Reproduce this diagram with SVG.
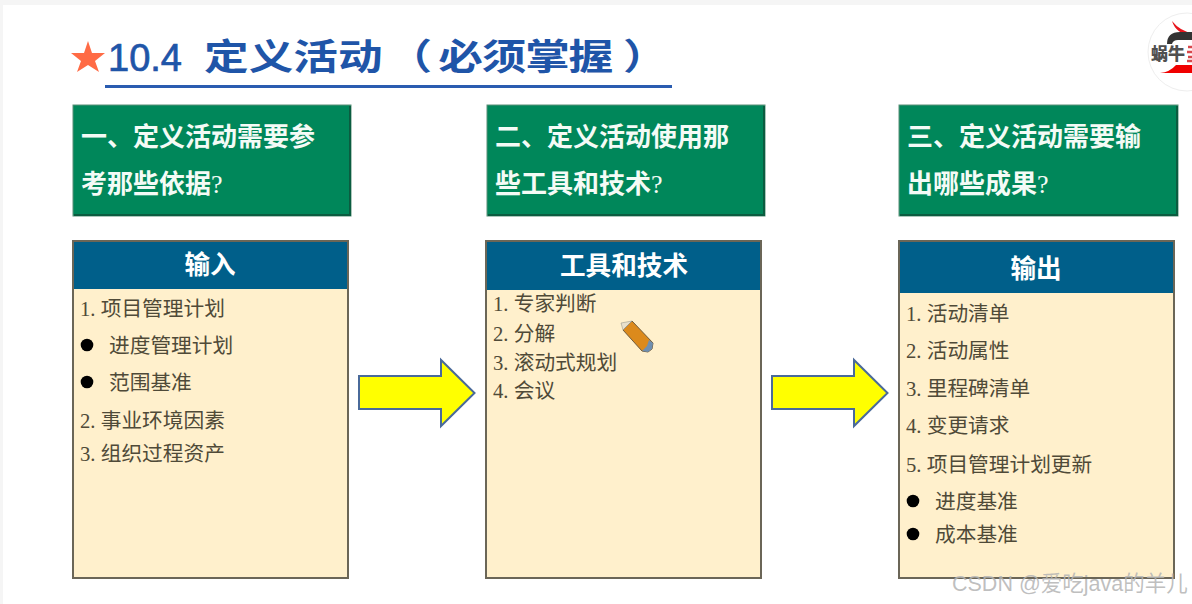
<svg xmlns="http://www.w3.org/2000/svg" width="1192" height="604" viewBox="0 0 1192 604">
<style>
.q{fill:#00875a;stroke:#5a8f78;stroke-width:1}
.qs{fill:none;stroke:#0b5c40;stroke-width:2}
.qt{font-family:"Liberation Serif","Noto Sans CJK SC",sans-serif;font-size:26px;font-weight:700;fill:#f4fbf6}
.qm{font-weight:400}
.box{fill:#fff0cc;stroke:#6b6657;stroke-width:2}
.hd{fill:#005f8a}
.ht{font-family:"Liberation Sans","Noto Sans CJK SC",sans-serif;font-size:25.6px;font-weight:700;fill:#fff;text-anchor:middle}
.t{font-family:"Liberation Serif","Noto Sans CJK SC",sans-serif;font-size:20.7px;fill:#4f4a38}
.arrow{fill:#ffff00;stroke:#4a6a9a;stroke-width:2}
</style>
<rect width="1192" height="604" fill="#ffffff"/>
<rect width="1192" height="5" fill="#f5f5f5"/>
<rect width="3" height="604" fill="#f5f5f5"/>
<g id="title">
<polygon points="88,41 92,53 105,53 95,61 99,72 88,65 77,72 81,61 71,53 84,53" fill="#ff6b45"/>
<text x="108" y="71" font-family="Liberation Sans,Noto Sans CJK SC,sans-serif" font-size="38" font-weight="400" stroke="#1f55a8" stroke-width="0.7" fill="#1f55a8">10.4</text>
<text transform="translate(204,70) scale(1.24,1)" x="0 36 72 108 148 189 224 259 294 338" y="0" font-family="Noto Sans CJK SC,sans-serif" font-size="36" font-weight="700" fill="#1f55a8">定义活动（必须掌握）</text>
<rect x="105" y="85" width="567" height="3" fill="#2a5cb0"/>
</g>
<g id="logo">
<circle cx="1187" cy="52" r="39" fill="#fff" stroke="#eeeeee"/>
<path d="M1172 21Q1180 31 1192 33L1192 36Q1176 34 1172 21Z" fill="#e8141c"/>
<path d="M1167 44Q1167 32 1180 32L1192 32L1192 40L1178 40Q1173 40 1172 44Z" fill="#333"/>
<path d="M1160 73Q1170 72 1176 65L1192 65L1192 73Z" fill="#f00000"/>
<text x="1151" y="60" font-family="Noto Sans CJK SC,sans-serif" font-size="17" font-weight="900" fill="#505050">蜗牛</text>
<path d="M1188 47H1192M1187 52H1192M1188 57H1192M1187 61H1192" stroke="#d8474c" stroke-width="2.500" fill="none"/>
</g>
<g id="q1">
<rect class="q" x="73" y="105" width="278" height="111"/>
<path class="qs" d="M350 106V215H74"/>
<text class="qt" x="81" y="146">一、定义活动需要参</text>
<text class="qt" x="81" y="193">考那些依据<tspan class="qm">?</tspan></text>
</g>
<g id="q2">
<rect class="q" x="487" y="105" width="278" height="111"/>
<path class="qs" d="M764 106V215H488"/>
<text class="qt" x="495" y="146">二、定义活动使用那</text>
<text class="qt" x="495" y="193">些工具和技术<tspan class="qm">?</tspan></text>
</g>
<g id="q3">
<rect class="q" x="899" y="105" width="279" height="111"/>
<path class="qs" d="M1177 106V215H900"/>
<text class="qt" x="907" y="146">三、定义活动需要输</text>
<text class="qt" x="907" y="193">出哪些成果<tspan class="qm">?</tspan></text>
</g>
<g id="input">
<rect class="box" x="73" y="241" width="275" height="337"/>
<rect class="hd" x="74" y="242" width="273" height="47"/>
<text class="ht" x="210" y="274">输入</text>
<text class="t" x="80" y="316">1. 项目管理计划</text>
<circle cx="87" cy="345" r="6.3"/>
<text class="t" x="109" y="353">进度管理计划</text>
<circle cx="87" cy="382" r="6.3"/>
<text class="t" x="109" y="390">范围基准</text>
<text class="t" x="80" y="428">2. 事业环境因素</text>
<text class="t" x="80" y="461">3. 组织过程资产</text>
</g>
<g id="tools">
<rect class="box" x="486" y="241" width="275" height="337"/>
<rect class="hd" x="487" y="242" width="273" height="48"/>
<text class="ht" x="624" y="275">工具和技术</text>
<text class="t" x="493" y="311">1. 专家判断</text>
<text class="t" x="493" y="341">2. 分解</text>
<text class="t" x="493" y="370">3. 滚动式规划</text>
<text class="t" x="493" y="398">4. 会议</text>
</g>
<g id="pencil">
<polygon points="623,330 632,321 653,343 652,349 648,352 642,351" fill="#dc8a1c" stroke="#6f5a3a" stroke-width="1"/>
<polygon points="621,323 632,321 623,330" fill="#e8e0cc" stroke="#8a8a80" stroke-width="0.5"/>
<polygon points="653,343 652,349 648,352 642,351 647,346 649,340" fill="#6f8fb0"/>
</g>
<g id="output">
<rect class="box" x="899" y="241" width="275" height="337"/>
<rect class="hd" x="900" y="242" width="273" height="51"/>
<text class="ht" x="1036" y="278">输出</text>
<text class="t" x="906" y="321">1. 活动清单</text>
<text class="t" x="906" y="358">2. 活动属性</text>
<text class="t" x="906" y="396">3. 里程碑清单</text>
<text class="t" x="906" y="433">4. 变更请求</text>
<text class="t" x="906" y="472">5. 项目管理计划更新</text>
<circle cx="913" cy="501" r="6.3"/>
<text class="t" x="935" y="509">进度基准</text>
<circle cx="913" cy="534" r="6.3"/>
<text class="t" x="935" y="542">成本基准</text>
</g>
<g id="connectors">
<polygon class="arrow" points="359,376 441,376 441,360 474.500,393 441,426 441,409 359,409"/>
<polygon class="arrow" points="772,376 854,376 854,360 887.500,393 854,426 854,409 772,409"/>
</g>
<text id="watermark" x="952" y="591" font-family="Liberation Sans,Noto Sans CJK SC,sans-serif" font-size="21.5" fill="#b4b4b4" fill-opacity="0.85">CSDN @爱吃java的羊儿</text>
</svg>
